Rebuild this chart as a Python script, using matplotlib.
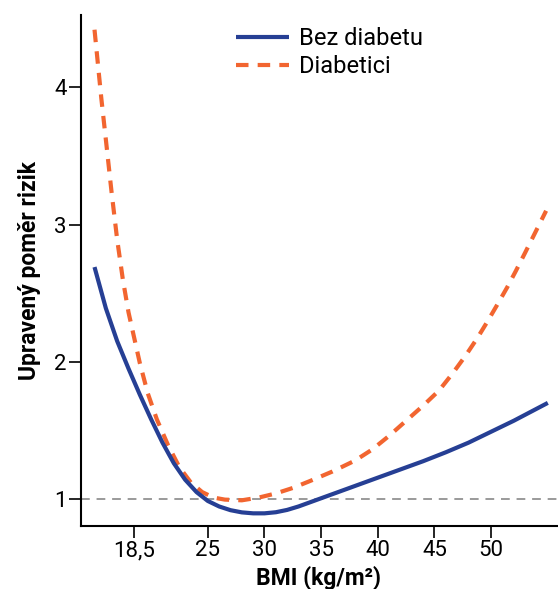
"""Adjusted risk ratio vs BMI, with and without diabetes."""
import matplotlib
matplotlib.use("Agg")
import matplotlib.pyplot as plt

# BMI values and risk ratios
bmi_nodiab = [15.0, 16.0, 17.0, 18.0, 19.0, 20.0, 21.0, 22.0, 23.0, 24.0,
              25.0, 26.0, 27.0, 28.0, 29.0, 30.0, 31.0, 32.0, 33.0, 34.0,
              35.0, 36.0, 38.0, 40.0, 42.0, 44.0, 46.0, 48.0, 50.0, 52.0,
              53.5, 55.0]
rr_nodiab = [2.69, 2.39, 2.15, 1.95, 1.76, 1.58, 1.41, 1.26, 1.14, 1.05,
             0.985, 0.945, 0.918, 0.902, 0.895, 0.895, 0.903, 0.92, 0.945, 0.975,
             1.005, 1.035, 1.095, 1.155, 1.215, 1.275, 1.34, 1.41, 1.49, 1.57,
             1.635, 1.70]

bmi_diab = [15.0, 15.3, 15.6, 16.0, 16.5, 17.0, 17.5, 18.0, 19.0, 19.7,
            20.5, 21.5, 22.5, 23.5, 24.5, 25.5, 26.5, 28.0, 29.5, 31.0,
            32.5, 34.0, 36.0, 38.0, 39.5, 41.0, 42.5, 44.0, 45.4, 46.6,
            47.75, 48.8, 49.65, 50.5, 51.4, 52.2, 53.0, 54.0, 54.85]
rr_diab = [4.42, 4.17, 3.92, 3.62, 3.24, 2.89, 2.60, 2.36, 1.99, 1.77,
           1.58, 1.39, 1.23, 1.12, 1.05, 1.01, 0.995, 0.99, 1.01, 1.04,
           1.08, 1.13, 1.20, 1.28, 1.36, 1.46, 1.57, 1.68, 1.79, 1.915,
           2.045, 2.175, 2.29, 2.41, 2.54, 2.665, 2.795, 2.96, 3.10]

x_ticks = [18.5, 25, 30, 35, 40, 45, 50]
x_tick_labels = ["18,5", "25", "30", "35", "40", "45", "50"]
y_ticks = [1, 2, 3, 4]

plt.rcParams["font.family"] = ["Roboto", "DejaVu Sans"]

fig = plt.figure(figsize=(5.58, 5.89), dpi=100)
ax = fig.add_axes([0.145, 0.1075, 0.853, 0.867])

ax.axhline(1.0, color="#9a9a9a", lw=1.4, ls=(0, (4.5, 3.5)), zorder=1)
ax.plot(bmi_nodiab, rr_nodiab, color="#263f94", lw=3.0,
        solid_capstyle="butt", solid_joinstyle="round",
        label="Bez diabetu", zorder=3)
ax.plot(bmi_diab, rr_diab, color="#f26530", lw=3.0, ls=(0, (3.0, 2.2)),
        dash_capstyle="butt", dash_joinstyle="round",
        label="Diabetici", zorder=2)

ax.set_xlim(13.8, 55.8)
ax.set_ylim(0.805, 4.527)
ax.set_xticks(x_ticks)
ax.set_xticklabels(x_tick_labels)
ax.set_yticks(y_ticks)

for side in ("top", "right"):
    ax.spines[side].set_visible(False)
for side in ("left", "bottom"):
    ax.spines[side].set_linewidth(1.5)
ax.tick_params(axis="both", length=8.5, width=1.2, labelsize=16, pad=2)

ax.set_xlabel("BMI (kg/m²)", fontsize=16.5, fontweight="bold", labelpad=3)
ax.set_ylabel("Upravený poměr rizik", fontsize=16.5, fontweight="bold",
              labelpad=9)

ax.legend(loc="upper left", bbox_to_anchor=(236 / 558, 1 - 27 / 589),
          bbox_transform=fig.transFigure, frameon=False, fontsize=17,
          handlelength=2.25, handletextpad=0.4, labelspacing=0.22,
          borderpad=0, borderaxespad=0)

fig.savefig("out.png", dpi=100)
